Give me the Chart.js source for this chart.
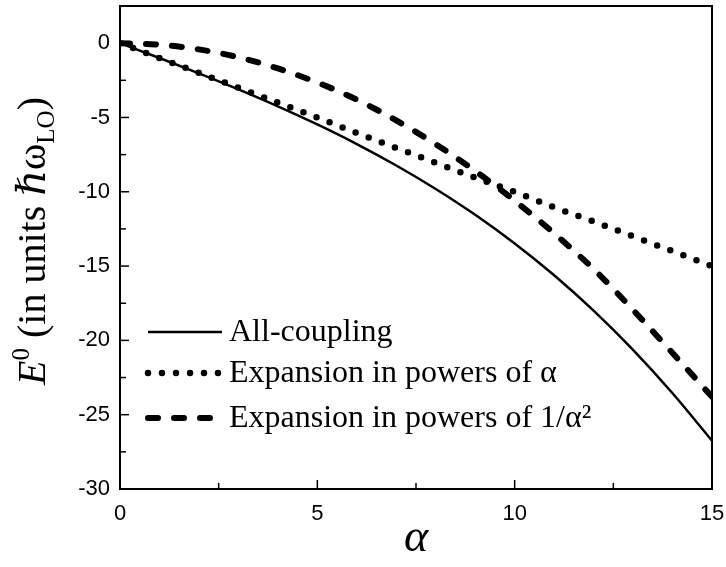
<!DOCTYPE html>
<html>
<head>
<meta charset="utf-8">
<script src="https://cdn.jsdelivr.net/npm/chart.js@4.4.0/dist/chart.umd.min.js"></script>
<style>
  html, body { margin: 0; padding: 0; background: #fff; }
  #wrap { width: 726px; height: 567px; }
</style>
</head>
<body>
<div id="wrap"><canvas id="energy-chart" width="726" height="567"></canvas></div>
<script>
// Values
const alphaValues = [0, 1, 2, 3, 4, 5, 6, 7, 8, 9, 10, 11, 12, 13, 14, 15];
const allCoupling = [0, -1.0, -2.03, -3.11, -4.25, -5.47, -6.79, -8.23, -9.81, -11.55, -13.48, -15.62, -18.0, -20.64, -23.56, -26.75];
const weakExpansion = [0, -1.0, -2.0, -3.0, -4.0, -5.0, -6.05, -7.05, -8.05, -9.05, -10.0, -11.05, -12.0, -13.0, -14.0, -15.0];
const strongExpansion = [0, -0.1, -0.42, -0.95, -1.7, -2.65, -3.8, -5.2, -6.8, -8.6, -10.6, -12.8, -15.2, -17.95, -20.85, -23.8];
const seriesLabels = ['All-coupling', 'Expansion in powers of \u03b1', 'Expansion in powers of 1/\u03b1\u00b2'];
const xRange = [0, 15];
const yRange = [-30, 2.5];
const tickStep = 2.5;
const labelStep = 5;

const SERIF = '"Liberation Serif", "DejaVu Serif", serif';
const SANS = '"Liberation Sans", Arial, sans-serif';

function toPoints(values) {
    return alphaValues.map((a, i) => ({ x: a, y: values[i] }));
}

// Draws a run of text pieces (for super/subscripts) centred on x
function drawRuns(ctx, runs, x, y) {
    let total = 0;
    runs.forEach(r => { ctx.font = r.font; total += ctx.measureText(r.text).width; });
    let cx = x - total / 2;
    runs.forEach(r => {
        ctx.font = r.font;
        ctx.fillText(r.text, cx, y + (r.dy || 0));
        cx += ctx.measureText(r.text).width;
    });
}

const framePlugin = {
    id: 'frame',
    afterDraw(chart) {
        const ctx = chart.ctx;
        const area = chart.chartArea;
        const xs = chart.scales.x;
        const ys = chart.scales.y;
        ctx.save();
        ctx.strokeStyle = '#000';
        ctx.fillStyle = '#000';

        // box
        ctx.lineWidth = 2;
        ctx.setLineDash([]);
        ctx.strokeRect(area.left, area.top, area.right - area.left, area.bottom - area.top);

        // inward ticks
        ctx.lineWidth = 1.5;
        xs.ticks.forEach(t => {
            const px = xs.getPixelForValue(t.value);
            const len = t.value % labelStep === 0 ? 9 : 6;
            ctx.beginPath();
            ctx.moveTo(px, area.bottom);
            ctx.lineTo(px, area.bottom - len);
            ctx.stroke();
        });
        ys.ticks.forEach(t => {
            const py = ys.getPixelForValue(t.value);
            const len = t.value % labelStep === 0 ? 9 : 6;
            ctx.beginPath();
            ctx.moveTo(area.left, py);
            ctx.lineTo(area.left + len, py);
            ctx.stroke();
        });

        // legend
        const rows = [332, 373, 418];
        chart.data.datasets.forEach((ds, i) => {
            const y = rows[i];
            ctx.beginPath();
            ctx.lineWidth = ds.borderWidth;
            ctx.lineCap = ds.borderCapStyle;
            ctx.setLineDash(ds.borderDash);
            ctx.moveTo(148, y);
            ctx.lineTo(222, y);
            ctx.stroke();
            ctx.setLineDash([]);
            ctx.font = '32px ' + SERIF;
            ctx.textBaseline = 'middle';
            ctx.textAlign = 'left';
            ctx.fillText(ds.label, 229, y + 1);
        });

        // axis titles
        ctx.textBaseline = 'alphabetic';
        ctx.textAlign = 'left';
        drawRuns(ctx, [{ text: '\u03b1', font: 'italic 46px ' + SERIF }], (area.left + area.right) / 2, 551);

        ctx.translate(45, 241);
        ctx.rotate(-Math.PI / 2);
        drawRuns(ctx, [
            { text: 'E', font: 'italic 40px ' + SERIF },
            { text: '0', font: '25px ' + SERIF, dy: -16 },
            { text: ' (in units ', font: '40px ' + SERIF },
            { text: '\u210f', font: 'italic 40px ' + SERIF },
            { text: '\u03c9', font: '40px ' + SERIF },
            { text: 'LO', font: '25px ' + SERIF, dy: 9 },
            { text: ')', font: '40px ' + SERIF }
        ], 0, 0);
        ctx.restore();
    }
};

const chart = new Chart(document.getElementById('energy-chart').getContext('2d'), {
    type: 'line',
    data: {
        datasets: [{
            label: seriesLabels[0],
            data: toPoints(allCoupling),
            borderColor: '#000',
            borderWidth: 2.5,
            borderDash: [],
            borderCapStyle: 'butt',
            pointRadius: 0,
            cubicInterpolationMode: 'monotone',
            fill: false
        }, {
            label: seriesLabels[1],
            data: toPoints(weakExpansion),
            borderColor: '#000',
            borderWidth: 6.5,
            borderDash: [0, 14],
            borderCapStyle: 'round',
            pointRadius: 0,
            cubicInterpolationMode: 'monotone',
            fill: false
        }, {
            label: seriesLabels[2],
            data: toPoints(strongExpansion),
            borderColor: '#000',
            borderWidth: 6,
            borderDash: [10, 16],
            borderCapStyle: 'round',
            pointRadius: 0,
            cubicInterpolationMode: 'monotone',
            fill: false
        }]
    },
    options: {
        responsive: false,
        animation: false,
        devicePixelRatio: 1,
        layout: { padding: { left: 0, right: 14, top: 6, bottom: 0 } },
        plugins: {
            legend: { display: false },
            tooltip: { enabled: false }
        },
        scales: {
            x: {
                type: 'linear',
                min: xRange[0],
                max: xRange[1],
                grid: { display: false, drawTicks: false },
                border: { display: false },
                afterFit: s => { s.height = 78; s.paddingLeft = 0; s.paddingRight = 0; },
                ticks: {
                    stepSize: tickStep,
                    autoSkip: false,
                    maxRotation: 0,
                    padding: 12,
                    color: '#000',
                    font: { family: SANS, size: 22 },
                    callback: v => (v % labelStep === 0 ? String(v) : '')
                }
            },
            y: {
                type: 'linear',
                min: yRange[0],
                max: yRange[1],
                grid: { display: false, drawTicks: false },
                border: { display: false },
                afterFit: s => { s.width = 120; s.paddingTop = 0; s.paddingBottom = 0; },
                ticks: {
                    stepSize: tickStep,
                    autoSkip: false,
                    padding: 10,
                    color: '#000',
                    font: { family: SANS, size: 22 },
                    callback: v => (v % labelStep === 0 ? String(v) : '')
                }
            }
        }
    },
    plugins: [framePlugin]
});
</script>
</body>
</html>
